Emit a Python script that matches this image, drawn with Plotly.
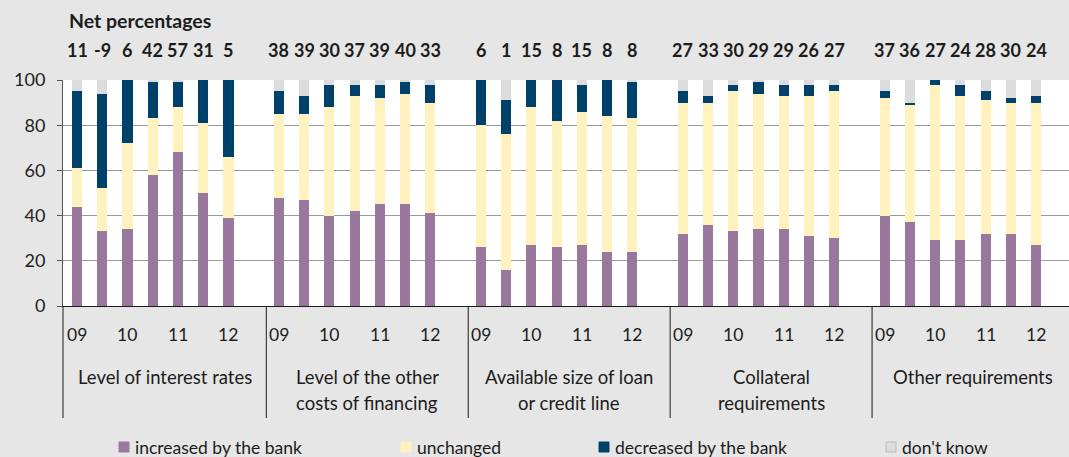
import plotly.graph_objects as go

# ---------------- data ----------------
categories = ["Level of interest rates",
              "Level of the other<br>costs of financing",
              "Available size of loan<br>or credit line",
              "Collateral<br>requirements",
              "Other requirements"]
year_labels = ["09", "10", "11", "12"]
series_names = ["increased by the bank", "unchanged", "decreased by the bank", "don't know"]

increased = [44, 33, 34, 58, 68, 50, 39,
             48, 47, 40, 42, 45, 45, 41,
             26, 16, 27, 26, 27, 24, 24,
             32, 36, 33, 34, 34, 31, 30,
             40, 37, 29, 29, 32, 32, 27]
unchanged = [17, 19, 38, 25, 20, 31, 27,
             37, 38, 48, 51, 47, 49, 49,
             54, 60, 61, 56, 59, 60, 59,
             58, 54, 62, 60, 59, 62, 65,
             52, 52, 69, 64, 59, 58, 63]
decreased = [34, 42, 28, 16, 11, 19, 34,
             10, 8, 10, 5, 6, 5, 8,
             20, 15, 12, 18, 12, 16, 16,
             5, 3, 3, 5, 5, 5, 3,
             3, 1, 2, 5, 4, 2, 3]
dont_know = [5, 6, 0, 1, 1, 0, 0,
             5, 7, 2, 2, 2, 1, 2,
             0, 9, 0, 0, 2, 0, 1,
             5, 7, 2, 1, 2, 2, 2,
             5, 10, 0, 2, 5, 8, 7]
net_pct = [11, -9, 6, 42, 57, 31, 5,
           38, 39, 30, 37, 39, 40, 33,
           6, 1, 15, 8, 15, 8, 8,
           27, 33, 30, 29, 29, 26, 27,
           37, 36, 27, 24, 28, 30, 24]

colors = ["#9a789e", "#fff2bf", "#00416b", "#dcdcdc"]

# ---------------- layout helpers ----------------
W, H = 1069, 457
L, R, T, B = 63, 0, 80, 151
PW, PH = W - L - R, H - T - B
SLOT_PX = 25.24
X0 = -0.555
BARS_PER_GROUP = 7
SLOTS_PER_GROUP = 8
FONT = "Lato"
TXT = "#1c1c1c"


def xp(px):
    return (px - L) / PW


def yp(px):
    return (H - B - px) / PH


xs = [g * SLOTS_PER_GROUP + i for g in range(len(categories)) for i in range(BARS_PER_GROUP)]

fig = go.Figure()
for name, vals, col in zip(series_names, [increased, unchanged, decreased, dont_know], colors):
    fig.add_trace(go.Bar(x=xs, y=vals, name=name, width=0.4,
                         marker=dict(color=col, line=dict(width=0)),
                         showlegend=False, hoverinfo="y+name"))

annotations = []
shapes = []

# Net percentages title + values
annotations.append(dict(text="<b>Net percentages</b>", xref="paper", yref="paper",
                        x=xp(67), y=yp(20), xanchor="left", yanchor="middle",
                        showarrow=False, font=dict(family=FONT, size=19.5, color=TXT)))
for x, v in zip(xs, net_pct):
    annotations.append(dict(text="<b>%d</b>" % v, xref="x", yref="paper", x=x, y=yp(50),
                            xanchor="center", yanchor="middle", showarrow=False,
                            font=dict(family=FONT, size=18, color=TXT)))

# year labels and category labels
for g, cat in enumerate(categories):
    base = g * SLOTS_PER_GROUP
    for k, yl in enumerate(year_labels):
        annotations.append(dict(text=yl, xref="x", yref="paper", x=base + 2 * k, y=yp(334),
                                xanchor="center", yanchor="middle", showarrow=False,
                                font=dict(family=FONT, size=17.5, color=TXT)))
    for li, line in enumerate(cat.split("<br>")):
        annotations.append(dict(text=line, xref="x", yref="paper", x=base + 3.5,
                                y=yp(377 + 25.5 * li), xanchor="center", yanchor="middle",
                                showarrow=False, font=dict(family=FONT, size=18.5, color=TXT)))
    # separators
    sep_x = base - 0.5
    if g == 0:
        shapes.append(dict(type="line", xref="paper", yref="paper", x0=0, x1=0,
                           y0=0, y1=yp(418), line=dict(color="#1a1a1a", width=1)))
    else:
        shapes.append(dict(type="line", xref="x", yref="paper", x0=sep_x, x1=sep_x,
                           y0=0, y1=yp(418), line=dict(color="#1a1a1a", width=1)))

# custom legend
leg_sq = [119, 401, 599, 886]
leg_y = 447
for sx, name, col in zip(leg_sq, series_names, colors):
    shapes.append(dict(type="rect", xref="paper", yref="paper",
                       x0=xp(sx), x1=xp(sx + 10), y0=yp(leg_y - 5), y1=yp(leg_y + 5),
                       fillcolor=col,
                       line=dict(color="#bdbdbd" if col == "#dcdcdc" else col, width=1)))
    annotations.append(dict(text=name, xref="paper", yref="paper", x=xp(sx + 14), y=yp(leg_y),
                            xanchor="left", yanchor="middle", showarrow=False,
                            font=dict(family=FONT, size=17.5, color=TXT)))

fig.update_layout(
    width=W, height=H, barmode="stack",
    margin=dict(l=L, r=R, t=T, b=B, pad=0),
    paper_bgcolor="#e6e6e6", plot_bgcolor="#ffffff",
    font=dict(family=FONT, size=17, color=TXT),
    xaxis=dict(range=[X0, X0 + PW / SLOT_PX], showticklabels=False, ticks="",
               showgrid=False, zeroline=False, showline=True, linecolor="#1a1a1a",
               linewidth=1, fixedrange=True),
    yaxis=dict(range=[0, 100], tickvals=[0, 20, 40, 60, 80, 100], ticks="outside",
               ticklen=5, tickcolor="#555555", showline=True, linecolor="#555555",
               linewidth=1, showgrid=True, gridcolor="#9a9a9a", gridwidth=1,
               zeroline=False, tickfont=dict(family=FONT, size=18, color="#222222"),
               ticklabelstandoff=8, fixedrange=True),
    annotations=annotations, shapes=shapes, bargap=0,
)

fig.write_html("out.html", config={"displayModeBar": False},
               post_script="document.body.style.margin='0';document.body.style.background='#e6e6e6';")
